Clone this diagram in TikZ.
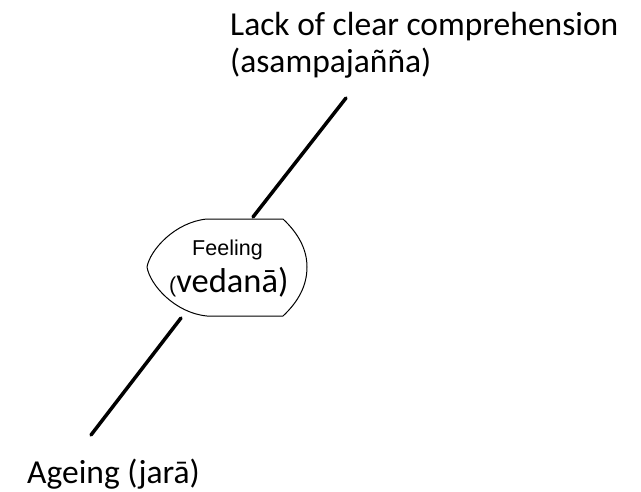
\documentclass[tikz,border=0pt]{standalone}
\usepackage{fontspec}
\setmainfont{Carlito}
\newfontfamily\arialfont{Liberation Sans}
\tikzset{
  lbl/.style={inner sep=0pt, anchor=base west, font=\fontsize{33.5}{40}\selectfont},
  conn/.style={line width=3.5pt, line cap=round},
  outline/.style={line width=1pt, line join=round}
}
\begin{document}
\begin{tikzpicture}[x=1pt,y=-1pt]
\useasboundingbox[fill=white] (0,0) rectangle (641,491);
% display shape
\draw[outline] (207,219) -- (283,219)
  .. controls (299,234) and (307,250) .. (307,267)
  .. controls (307,285) and (299,301) .. (283,316)
  -- (207,316)
  .. controls (175,313) and (150,285) .. (147,267)
  .. controls (150,250) and (175,222) .. (207,219) -- cycle;
\node[inner sep=0pt, anchor=base, font=\arialfont\fontsize{21.5}{25}\selectfont] (feel) at (227.5,255) {Feeling};
\node[inner sep=0pt, anchor=base west] (ved) at (169,292) {{\arialfont\fontsize{21.5}{25}\selectfont(}{\fontsize{34.5}{40}\selectfont vedanā)}};
\coordinate (st) at (253,217);
\coordinate (sb) at (181,318);
% labels
\node[lbl] (lack) at (230,35) {Lack of clear comprehension};
\node[lbl] (asam) at (230,72) {(asampajañña)};
\node[lbl] (age) at (27,483) {Ageing (jarā)};
\coordinate (ltop) at (346,98);
\coordinate (lbot) at (91,435);
\draw[conn] (st) -- (ltop);
\draw[conn] (sb) -- (lbot);
\end{tikzpicture}
\end{document}
